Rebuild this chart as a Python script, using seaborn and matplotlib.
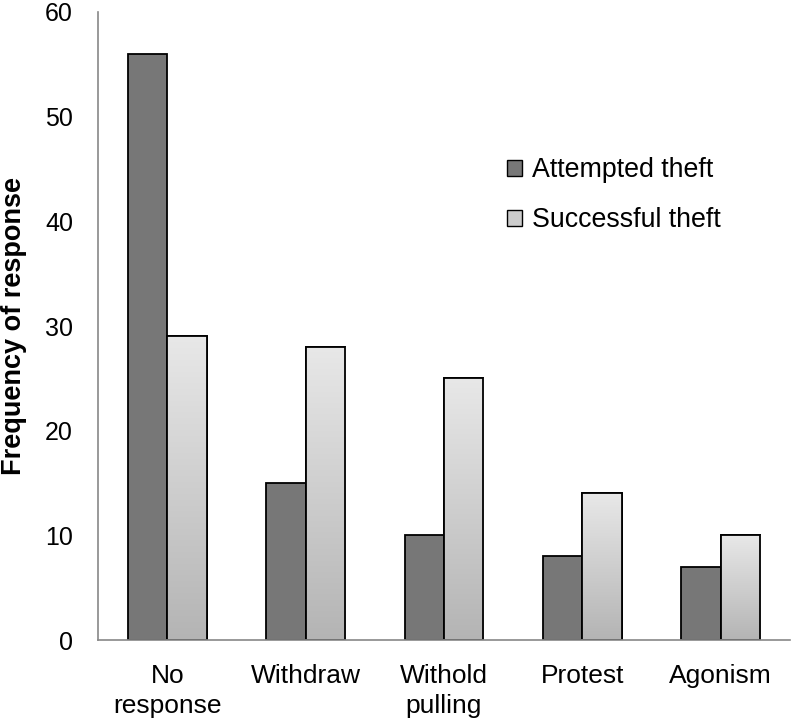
import numpy as np
import pandas as pd
import matplotlib
matplotlib.use("Agg")
import matplotlib.pyplot as plt
import seaborn as sns
from matplotlib.patches import Patch
from matplotlib.colors import LinearSegmentedColormap

categories = ["No\nresponse", "Withdraw", "Withold\npulling", "Protest", "Agonism"]
attempted = [56, 15, 10, 8, 7]
successful = [29, 28, 25, 14, 10]
series = ["Attempted theft", "Successful theft"]
yticks = [0, 10, 20, 30, 40, 50, 60]

df = pd.DataFrame({
    "category": categories * 2,
    "value": attempted + successful,
    "series": [series[0]] * len(categories) + [series[1]] * len(categories),
})

sns.set_style("white")
plt.rcParams["font.family"] = ["Liberation Sans", "DejaVu Sans"]
plt.rcParams["text.color"] = "black"
plt.rcParams["xtick.color"] = "black"
plt.rcParams["ytick.color"] = "black"
plt.rcParams["axes.labelcolor"] = "black"

fig = plt.figure(figsize=(7.96, 7.21), dpi=100)
ax = fig.add_axes([0.1231, 0.1123, 0.8694, 0.8711])

dark = "#777777"
light = "#d0d0d0"
sns.barplot(data=df, x="category", y="value", hue="series", order=categories,
            hue_order=series, palette=[dark, light], width=0.57, gap=0,
            edgecolor="black", linewidth=1.3, ax=ax, legend=False, saturation=1)

# gradient on light bars
cmap = LinearSegmentedColormap.from_list("g", ["#b4b4b4", "#e8e8e8"])
grad = np.linspace(0, 1, 256).reshape(-1, 1)
n = len(categories)
for p in ax.patches[n:2 * n]:
    x0, y0 = p.get_x(), p.get_y()
    w, h = p.get_width(), p.get_height()
    im = ax.imshow(grad, cmap=cmap, origin="lower", aspect="auto",
                   extent=[x0, x0 + w, y0, y0 + h], zorder=p.get_zorder() + 0.1)
    im.set_clip_path(p)
    ax.add_patch(plt.Rectangle((x0, y0), w, h, fill=False, edgecolor="black",
                               linewidth=1.3, zorder=p.get_zorder() + 0.2))
ax.set_xlim(-0.5, len(categories) - 0.5)
ax.set_ylim(0, 60)

ax.set_yticks(yticks)
ax.set_yticklabels([str(v) for v in yticks], fontsize=18)
ax.set_xticks(range(n))
ax.set_xticklabels(categories, fontsize=19, linespacing=1.32)
ax.set_xticks(np.arange(-0.5, n, 1.0), minor=True)
ax.tick_params(axis="x", which="major", length=0, pad=17)
ax.tick_params(axis="x", which="minor", length=6, width=1, color="#888888", direction="out")
ax.tick_params(axis="y", which="major", length=6, width=1, color="#888888", direction="out", pad=12)
ax.set_xlabel("")
ax.set_ylabel("Frequency of response", fontsize=19.5, fontweight="bold")
ax.yaxis.set_label_coords(-0.102, 0.5)

for s in ["top", "right"]:
    ax.spines[s].set_visible(False)
for s in ["left", "bottom"]:
    ax.spines[s].set_color("#888888")
    ax.spines[s].set_linewidth(1.2)

handles = [Patch(facecolor=dark, edgecolor="black", linewidth=1),
           Patch(facecolor="#cccccc", edgecolor="black", linewidth=1)]
ax.legend(handles, series, loc="upper left", bbox_to_anchor=(0.556, 0.807),
          frameon=False, fontsize=19.3, handlelength=0.58, handleheight=0.58,
          handletextpad=0.35, labelspacing=0.9)

fig.savefig("out.png", dpi=100)
